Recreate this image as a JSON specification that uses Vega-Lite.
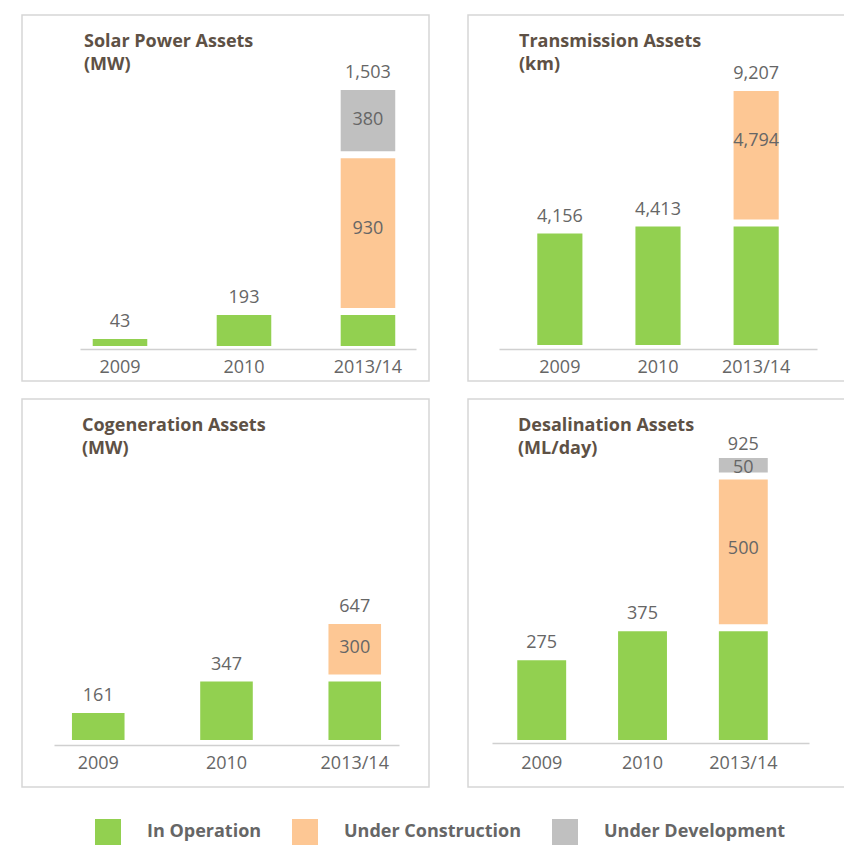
{
  "$schema": "https://vega.github.io/schema/vega-lite/v6.json",
  "background": "white",
  "padding": {"left": 21, "top": 14, "right": 0, "bottom": 0},
  "data": {"values": [
    {"panel": "Solar", "year": "2009", "status": "In Operation", "mw": 43},
    {"panel": "Solar", "year": "2010", "status": "In Operation", "mw": 193},
    {"panel": "Solar", "year": "2013/14", "status": "In Operation", "mw": 193},
    {"panel": "Solar", "year": "2013/14", "status": "Under Construction", "mw": 930},
    {"panel": "Solar", "year": "2013/14", "status": "Under Development", "mw": 380},
    {"panel": "Transmission", "year": "2009", "status": "In Operation", "mw": 4156},
    {"panel": "Transmission", "year": "2010", "status": "In Operation", "mw": 4413},
    {"panel": "Transmission", "year": "2013/14", "status": "In Operation", "mw": 4413},
    {"panel": "Transmission", "year": "2013/14", "status": "Under Construction", "mw": 4794},
    {"panel": "Cogeneration", "year": "2009", "status": "In Operation", "mw": 161},
    {"panel": "Cogeneration", "year": "2010", "status": "In Operation", "mw": 347},
    {"panel": "Cogeneration", "year": "2013/14", "status": "In Operation", "mw": 347},
    {"panel": "Cogeneration", "year": "2013/14", "status": "Under Construction", "mw": 300},
    {"panel": "Desalination", "year": "2009", "status": "In Operation", "mw": 275},
    {"panel": "Desalination", "year": "2010", "status": "In Operation", "mw": 375},
    {"panel": "Desalination", "year": "2013/14", "status": "In Operation", "mw": 375},
    {"panel": "Desalination", "year": "2013/14", "status": "Under Construction", "mw": 500},
    {"panel": "Desalination", "year": "2013/14", "status": "Under Development", "mw": 50}
  ]},
  "spacing": 16,
  "vconcat": [
    {
      "spacing": 37,
      "hconcat": [
        {
          "width": 407, "height": 366,
          "title": {"text": ["Solar Power Assets", "(MW)"], "dx": 62},
          "transform": [
            {"filter": "datum.panel == 'Solar'"},
            {"stack": "mw", "groupby": ["year"], "sort": [{"field": "status", "order": "ascending"}], "as": ["v0", "v1"]},
            {"joinaggregate": [{"op": "sum", "field": "mw", "as": "total"}], "groupby": ["year"]}
          ],
          "encoding": {
            "x": {"field": "year", "type": "nominal", "sort": ["2009", "2010", "2013/14"],
              "scale": {"range": [58, 394], "paddingInner": 0.56, "paddingOuter": 0.135, "align": 0.38},
              "axis": {"offset": -32, "labelPadding": 9}},
            "y": {"field": "v1", "type": "quantitative", "scale": {"domain": [0, 1503], "range": [331, 89], "nice": false, "zero": false}, "axis": null}
          },
          "layer": [
            {"transform": [{"filter": "datum.status == 'In Operation'"}], "mark": {"type": "bar"},
             "encoding": {"y2": {"field": "v0"}, "color": {"field": "status", "type": "nominal",
               "scale": {"domain": ["In Operation", "Under Construction", "Under Development"], "range": ["#92d050", "#fdc794", "#c0c0c0"]},
               "legend": {"orient": "none", "legendX": 73, "legendY": 804, "direction": "horizontal", "labelLimit": 400, "padding": 0}}}},
            {"transform": [{"filter": "datum.status == 'Under Construction'"}], "mark": {"type": "bar", "color": "#fdc794", "yOffset": -7, "y2Offset": -7},
             "encoding": {"y2": {"field": "v0"}}},
            {"transform": [{"filter": "datum.status == 'Under Development'"}], "mark": {"type": "bar", "color": "#c0c0c0", "yOffset": -14, "y2Offset": -14},
             "encoding": {"y2": {"field": "v0"}}},
            {"transform": [{"filter": "datum.status == 'In Operation' && datum.v1 == datum.total"}], "mark": {"type": "text", "baseline": "alphabetic", "dy": -12},
             "encoding": {"text": {"field": "total", "type": "quantitative", "format": ","}}},
            {"transform": [{"filter": "datum.status == 'Under Construction' && datum.v1 == datum.total"}], "mark": {"type": "text", "baseline": "alphabetic", "dy": -19},
             "encoding": {"text": {"field": "total", "type": "quantitative", "format": ","}}},
            {"transform": [{"filter": "datum.status == 'Under Development' && datum.v1 == datum.total"}], "mark": {"type": "text", "baseline": "alphabetic", "dy": -26},
             "encoding": {"text": {"field": "total", "type": "quantitative", "format": ","}}},
            {"transform": [{"filter": "datum.status == 'Under Construction'"}, {"fold": ["v0", "v1"], "as": ["k", "pos"]},
               {"aggregate": [{"op": "mean", "field": "pos", "as": "mid"}, {"op": "max", "field": "mw", "as": "seg"}], "groupby": ["year"]}],
             "mark": {"type": "text", "dy": -11},
             "encoding": {"y": {"field": "mid", "type": "quantitative"}, "text": {"field": "seg", "type": "quantitative", "format": ","}}},
            {"transform": [{"filter": "datum.status == 'Under Development'"}, {"fold": ["v0", "v1"], "as": ["k", "pos"]},
               {"aggregate": [{"op": "mean", "field": "pos", "as": "mid"}, {"op": "max", "field": "mw", "as": "seg"}], "groupby": ["year"]}],
             "mark": {"type": "text", "dy": -15},
             "encoding": {"y": {"field": "mid", "type": "quantitative"}, "text": {"field": "seg", "type": "quantitative", "format": ","}}}
          ]
        },
        {
          "width": 378, "height": 366,
          "title": {"text": ["Transmission Assets", "(km)"], "dx": 51},
          "transform": [
            {"filter": "datum.panel == 'Transmission'"},
            {"stack": "mw", "groupby": ["year"], "sort": [{"field": "status", "order": "ascending"}], "as": ["v0", "v1"]},
            {"joinaggregate": [{"op": "sum", "field": "mw", "as": "total"}], "groupby": ["year"]}
          ],
          "encoding": {
            "x": {"field": "year", "type": "nominal", "sort": ["2009", "2010", "2013/14"],
              "scale": {"range": [31, 349], "paddingInner": 0.54, "paddingOuter": 0.39},
              "axis": {"offset": -32, "labelPadding": 9}},
            "y": {"field": "v1", "type": "quantitative", "scale": {"domain": [0, 9207], "range": [330, 83], "nice": false, "zero": false}, "axis": null}
          },
          "layer": [
            {"transform": [{"filter": "datum.status == 'In Operation'"}], "mark": {"type": "bar"},
             "encoding": {"y2": {"field": "v0"}, "color": {"field": "status", "type": "nominal",
               "scale": {"domain": ["In Operation", "Under Construction", "Under Development"], "range": ["#92d050", "#fdc794", "#c0c0c0"]},
               "legend": {"orient": "none", "legendX": 73, "legendY": 804, "direction": "horizontal", "labelLimit": 400, "padding": 0}}}},
            {"transform": [{"filter": "datum.status == 'Under Construction'"}], "mark": {"type": "bar", "color": "#fdc794", "yOffset": -7, "y2Offset": -7},
             "encoding": {"y2": {"field": "v0"}}},
            {"transform": [{"filter": "datum.status == 'Under Development'"}], "mark": {"type": "bar", "color": "#c0c0c0", "yOffset": -14, "y2Offset": -14},
             "encoding": {"y2": {"field": "v0"}}},
            {"transform": [{"filter": "datum.status == 'In Operation' && datum.v1 == datum.total"}], "mark": {"type": "text", "baseline": "alphabetic", "dy": -12},
             "encoding": {"text": {"field": "total", "type": "quantitative", "format": ","}}},
            {"transform": [{"filter": "datum.status == 'Under Construction' && datum.v1 == datum.total"}], "mark": {"type": "text", "baseline": "alphabetic", "dy": -19},
             "encoding": {"text": {"field": "total", "type": "quantitative", "format": ","}}},
            {"transform": [{"filter": "datum.status == 'Under Development' && datum.v1 == datum.total"}], "mark": {"type": "text", "baseline": "alphabetic", "dy": -26},
             "encoding": {"text": {"field": "total", "type": "quantitative", "format": ","}}},
            {"transform": [{"filter": "datum.status == 'Under Construction'"}, {"fold": ["v0", "v1"], "as": ["k", "pos"]},
               {"aggregate": [{"op": "mean", "field": "pos", "as": "mid"}, {"op": "max", "field": "mw", "as": "seg"}], "groupby": ["year"]}],
             "mark": {"type": "text", "dy": -21},
             "encoding": {"y": {"field": "mid", "type": "quantitative"}, "text": {"field": "seg", "type": "quantitative", "format": ","}}},
            {"transform": [{"filter": "datum.status == 'Under Development'"}, {"fold": ["v0", "v1"], "as": ["k", "pos"]},
               {"aggregate": [{"op": "mean", "field": "pos", "as": "mid"}, {"op": "max", "field": "mw", "as": "seg"}], "groupby": ["year"]}],
             "mark": {"type": "text", "dy": -15},
             "encoding": {"y": {"field": "mid", "type": "quantitative"}, "text": {"field": "seg", "type": "quantitative", "format": ","}}}
          ]
        }
      ]
    },
    {
      "spacing": 37,
      "hconcat": [
        {
          "width": 407, "height": 388,
          "title": {"text": ["Cogeneration Assets", "(MW)"], "dx": 60},
          "transform": [
            {"filter": "datum.panel == 'Cogeneration'"},
            {"stack": "mw", "groupby": ["year"], "sort": [{"field": "status", "order": "ascending"}], "as": ["v0", "v1"]},
            {"joinaggregate": [{"op": "sum", "field": "mw", "as": "total"}], "groupby": ["year"]}
          ],
          "encoding": {
            "x": {"field": "year", "type": "nominal", "sort": ["2009", "2010", "2013/14"],
              "scale": {"range": [32, 377], "paddingInner": 0.59, "paddingOuter": 0.14},
              "axis": {"offset": -42, "labelPadding": 9}},
            "y": {"field": "v1", "type": "quantitative", "scale": {"domain": [0, 647], "range": [341, 232], "nice": false, "zero": false}, "axis": null}
          },
          "layer": [
            {"transform": [{"filter": "datum.status == 'In Operation'"}], "mark": {"type": "bar"},
             "encoding": {"y2": {"field": "v0"}, "color": {"field": "status", "type": "nominal",
               "scale": {"domain": ["In Operation", "Under Construction", "Under Development"], "range": ["#92d050", "#fdc794", "#c0c0c0"]},
               "legend": {"orient": "none", "legendX": 73, "legendY": 804, "direction": "horizontal", "labelLimit": 400, "padding": 0}}}},
            {"transform": [{"filter": "datum.status == 'Under Construction'"}], "mark": {"type": "bar", "color": "#fdc794", "yOffset": -7, "y2Offset": -7},
             "encoding": {"y2": {"field": "v0"}}},
            {"transform": [{"filter": "datum.status == 'Under Development'"}], "mark": {"type": "bar", "color": "#c0c0c0", "yOffset": -14, "y2Offset": -14},
             "encoding": {"y2": {"field": "v0"}}},
            {"transform": [{"filter": "datum.status == 'In Operation' && datum.v1 == datum.total"}], "mark": {"type": "text", "baseline": "alphabetic", "dy": -12},
             "encoding": {"text": {"field": "total", "type": "quantitative", "format": ","}}},
            {"transform": [{"filter": "datum.status == 'Under Construction' && datum.v1 == datum.total"}], "mark": {"type": "text", "baseline": "alphabetic", "dy": -19},
             "encoding": {"text": {"field": "total", "type": "quantitative", "format": ","}}},
            {"transform": [{"filter": "datum.status == 'Under Development' && datum.v1 == datum.total"}], "mark": {"type": "text", "baseline": "alphabetic", "dy": -26},
             "encoding": {"text": {"field": "total", "type": "quantitative", "format": ","}}},
            {"transform": [{"filter": "datum.status == 'Under Construction'"}, {"fold": ["v0", "v1"], "as": ["k", "pos"]},
               {"aggregate": [{"op": "mean", "field": "pos", "as": "mid"}, {"op": "max", "field": "mw", "as": "seg"}], "groupby": ["year"]}],
             "mark": {"type": "text", "dy": -8},
             "encoding": {"y": {"field": "mid", "type": "quantitative"}, "text": {"field": "seg", "type": "quantitative", "format": ","}}},
            {"transform": [{"filter": "datum.status == 'Under Development'"}, {"fold": ["v0", "v1"], "as": ["k", "pos"]},
               {"aggregate": [{"op": "mean", "field": "pos", "as": "mid"}, {"op": "max", "field": "mw", "as": "seg"}], "groupby": ["year"]}],
             "mark": {"type": "text", "dy": -15},
             "encoding": {"y": {"field": "mid", "type": "quantitative"}, "text": {"field": "seg", "type": "quantitative", "format": ","}}}
          ]
        },
        {
          "width": 378, "height": 388,
          "title": {"text": ["Desalination Assets", "(ML/day)"], "dx": 50},
          "transform": [
            {"filter": "datum.panel == 'Desalination'"},
            {"stack": "mw", "groupby": ["year"], "sort": [{"field": "status", "order": "ascending"}], "as": ["v0", "v1"]},
            {"joinaggregate": [{"op": "sum", "field": "mw", "as": "total"}], "groupby": ["year"]}
          ],
          "encoding": {
            "x": {"field": "year", "type": "nominal", "sort": ["2009", "2010", "2013/14"],
              "scale": {"range": [24, 341], "paddingInner": 0.515, "paddingOuter": 0.33, "align": 0.38},
              "axis": {"offset": -44, "labelPadding": 11}},
            "y": {"field": "v1", "type": "quantitative", "scale": {"domain": [0, 925], "range": [341, 73], "nice": false, "zero": false}, "axis": null}
          },
          "layer": [
            {"transform": [{"filter": "datum.status == 'In Operation'"}], "mark": {"type": "bar"},
             "encoding": {"y2": {"field": "v0"}, "color": {"field": "status", "type": "nominal",
               "scale": {"domain": ["In Operation", "Under Construction", "Under Development"], "range": ["#92d050", "#fdc794", "#c0c0c0"]},
               "legend": {"orient": "none", "legendX": 73, "legendY": 804, "direction": "horizontal", "labelLimit": 400, "padding": 0}}}},
            {"transform": [{"filter": "datum.status == 'Under Construction'"}], "mark": {"type": "bar", "color": "#fdc794", "yOffset": -7, "y2Offset": -7},
             "encoding": {"y2": {"field": "v0"}}},
            {"transform": [{"filter": "datum.status == 'Under Development'"}], "mark": {"type": "bar", "color": "#c0c0c0", "yOffset": -14, "y2Offset": -14},
             "encoding": {"y2": {"field": "v0"}}},
            {"transform": [{"filter": "datum.status == 'In Operation' && datum.v1 == datum.total"}], "mark": {"type": "text", "baseline": "alphabetic", "dy": -12},
             "encoding": {"text": {"field": "total", "type": "quantitative", "format": ","}}},
            {"transform": [{"filter": "datum.status == 'Under Construction' && datum.v1 == datum.total"}], "mark": {"type": "text", "baseline": "alphabetic", "dy": -19},
             "encoding": {"text": {"field": "total", "type": "quantitative", "format": ","}}},
            {"transform": [{"filter": "datum.status == 'Under Development' && datum.v1 == datum.total"}], "mark": {"type": "text", "baseline": "alphabetic", "dy": -22},
             "encoding": {"text": {"field": "total", "type": "quantitative", "format": ","}}},
            {"transform": [{"filter": "datum.status == 'Under Construction'"}, {"fold": ["v0", "v1"], "as": ["k", "pos"]},
               {"aggregate": [{"op": "mean", "field": "pos", "as": "mid"}, {"op": "max", "field": "mw", "as": "seg"}], "groupby": ["year"]}],
             "mark": {"type": "text", "dy": -10},
             "encoding": {"y": {"field": "mid", "type": "quantitative"}, "text": {"field": "seg", "type": "quantitative", "format": ","}}},
            {"transform": [{"filter": "datum.status == 'Under Development'"}, {"fold": ["v0", "v1"], "as": ["k", "pos"]},
               {"aggregate": [{"op": "mean", "field": "pos", "as": "mid"}, {"op": "max", "field": "mw", "as": "seg"}], "groupby": ["year"]}],
             "mark": {"type": "text", "dy": -11},
             "encoding": {"y": {"field": "mid", "type": "quantitative"}, "text": {"field": "seg", "type": "quantitative", "format": ","}}}
          ]
        }
      ]
    }
  ],
  "config": {
    "font": "Open Sans",
    "view": {"stroke": "#d6d6d6", "strokeWidth": 1.5},
    "title": {"anchor": "start", "frame": "group", "orient": "top", "offset": -59, "baseline": "alphabetic",
      "fontSize": 18, "fontWeight": "bold", "color": "#5e5145", "lineHeight": 23, "font": "Open Sans"},
    "axisX": {"title": null, "ticks": false, "domainColor": "#d0d0d0", "domainWidth": 1.5, "labelAngle": 0,
      "labelFontSize": 18, "labelColor": "#666666", "labelFont": "Open Sans", "zindex": 1, "grid": false},
    "text": {"fontSize": 18, "color": "#666666", "font": "Open Sans"},
    "legend": {"title": null, "symbolType": "square", "symbolSize": 676, "symbolStrokeWidth": 0, "symbolOpacity": 1,
      "labelFontSize": 18, "labelFontWeight": "bold", "labelColor": "#666666", "labelFont": "Open Sans",
      "columnPadding": 30, "labelOffset": 26}
  }
}
